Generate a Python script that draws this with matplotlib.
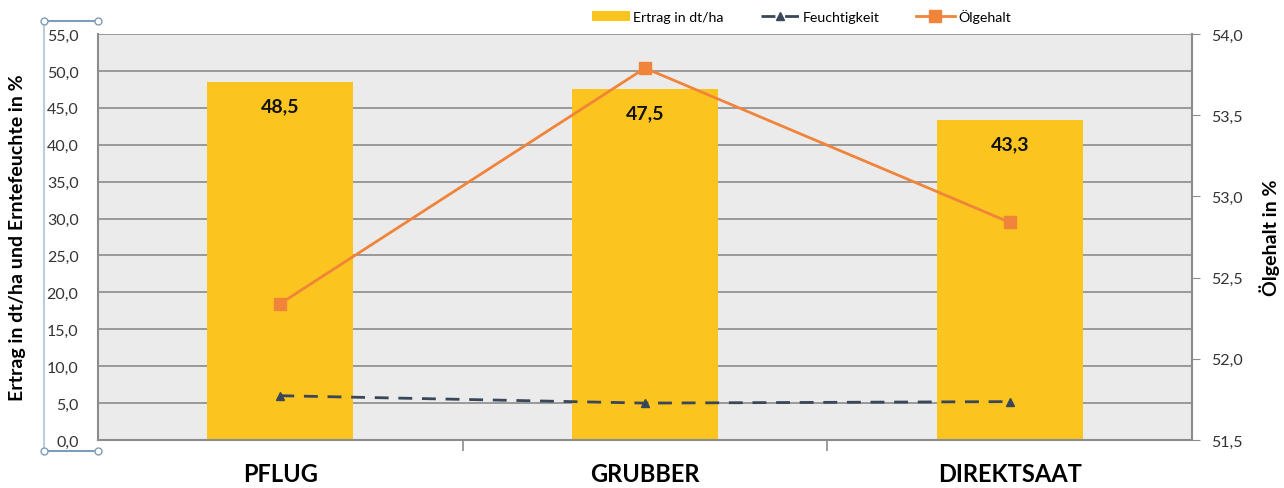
import matplotlib
matplotlib.use("Agg")
import matplotlib.pyplot as plt
from matplotlib.lines import Line2D
from matplotlib.ticker import FuncFormatter, MultipleLocator
import numpy as np

plt.rcParams['font.family'] = ['Lato', 'DejaVu Sans']

# Daten
categories = ["PFLUG", "GRUBBER", "DIREKTSAAT"]
ertrag = [48.5, 47.5, 43.3]
feuchtigkeit = [6.0, 5.0, 5.2]
oelgehalt = [52.34, 53.79, 52.84]

c_bar = "#FBC41E"
c_oel = "#F0843A"
c_feu = "#3A4759"

fig = plt.figure(figsize=(12.84, 4.89), dpi=100)
ax = fig.add_axes([98 / 1284, 1 - 441 / 489, 1094 / 1284, 406 / 489])
ax2 = ax.twinx()

x = np.arange(len(categories))
ax.set_facecolor("#EBEBEB")
ax.set_xlim(-0.5, 2.5)
ax.set_ylim(0, 55)
ax.yaxis.set_major_locator(MultipleLocator(5))
ax.grid(axis="y", color="#8C8C8C", linewidth=1.2)
ax.set_axisbelow(True)

bars = ax.bar(x, ertrag, width=0.4, color=c_bar, label="Ertrag in dt/ha", zorder=2)
for xi, v in zip(x, ertrag):
    ax.annotate(f"{v:.1f}".replace(".", ","), (xi, v), xytext=(0, -17),
                textcoords="offset points", ha="center", va="center",
                fontsize=14, fontweight="bold", color="#111111", zorder=5)

ln_feu, = ax.plot(x, feuchtigkeit, color=c_feu, linestyle=(0, (5, 3.5)), linewidth=2,
                  marker="^", markersize=6, label="Feuchtigkeit", zorder=4)

ax2.set_ylim(51.5, 54.0)
ax2.yaxis.set_major_locator(MultipleLocator(0.5))
ln_oel, = ax2.plot(x, oelgehalt, color=c_oel, linewidth=2, marker="s", markersize=8,
                   label="Ölgehalt", zorder=4)

fmt = FuncFormatter(lambda v, p: f"{v:.1f}".replace(".", ","))
ax.yaxis.set_major_formatter(fmt)
ax2.yaxis.set_major_formatter(fmt)

for a in (ax, ax2):
    for s in a.spines.values():
        s.set_visible(False)
ax.spines["left"].set_visible(True)
ax.spines["left"].set_color("#8C8C8C")
ax.spines["left"].set_linewidth(1.5)
ax.spines["bottom"].set_visible(True)
ax.spines["bottom"].set_color("#8C8C8C")
ax.spines["bottom"].set_linewidth(1.5)
ax2.spines["right"].set_visible(True)
ax2.spines["right"].set_color("#8C8C8C")
ax2.spines["right"].set_linewidth(1.5)

ax.tick_params(axis="y", length=0, labelsize=11.5, labelcolor="#333333", pad=14)
ax2.tick_params(axis="y", length=6, color="#8C8C8C", labelsize=11.5, labelcolor="#333333", pad=8)

ax.set_xticks(x)
ax.set_xticklabels(categories, fontsize=17, fontweight="bold")
ax.set_xticks([0.5, 1.5], minor=True)
ax.tick_params(axis="x", which="major", length=0, pad=16)
ax.tick_params(axis="x", which="minor", length=8, color="#8C8C8C", width=1.2)

ax.set_ylabel("Ertrag in dt/ha und Erntefeuchte in %", fontsize=14, fontweight="bold")
ax.yaxis.set_label_coords(-0.066, 0.5)
ax2.set_ylabel("Ölgehalt in %", fontsize=14, fontweight="bold")
ax2.yaxis.set_label_coords(1.061, 0.5)

fig.legend(handles=[bars, ln_feu, ln_oel], loc="center", bbox_to_anchor=(0.624, 0.966),
           ncol=3, frameon=False, fontsize=10.2, handlelength=2.7, columnspacing=2.6,
           handletextpad=0.25)

# Auswahlmarkierung der Achse
hc = "#7F9DB9"
pts = [(44, 22), (98, 22), (44, 452), (98, 452)]
fx = lambda px: px / 1284
fy = lambda py: 1 - py / 489
fig.add_artist(Line2D([fx(44), fx(98)], [fy(22), fy(22)], color=hc, lw=1.5))
fig.add_artist(Line2D([fx(44), fx(98)], [fy(452), fy(452)], color=hc, lw=1.5))
fig.add_artist(Line2D([fx(44), fx(44)], [fy(22), fy(452)], color=hc, lw=1.5, alpha=0.5))
for px, py in pts:
    fig.add_artist(Line2D([fx(px)], [fy(py)], marker="o", markersize=5,
                          markerfacecolor="white", markeredgecolor=hc, lw=0))

fig.savefig("out.png", dpi=100, facecolor="white")
